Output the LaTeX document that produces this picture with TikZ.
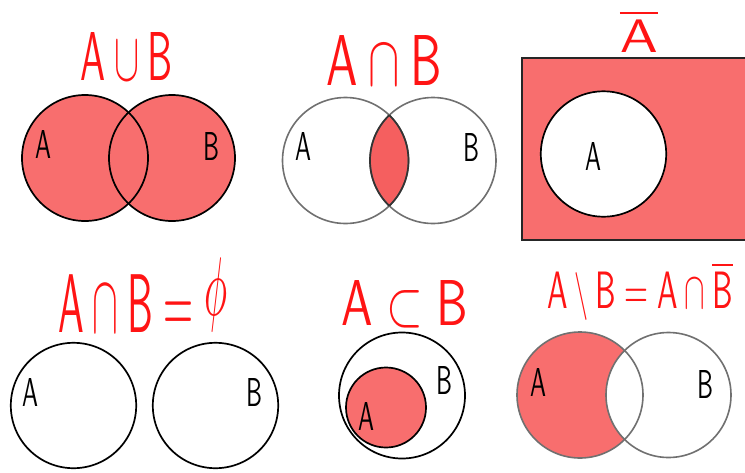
\documentclass[tikz,border=0pt]{standalone}
\usepackage{graphicx}
\usepackage{amsmath,amssymb}
\definecolor{setred}{RGB}{248,110,110}
\definecolor{lensred}{RGB}{245,95,95}
\definecolor{inkred}{RGB}{255,20,20}
\definecolor{outgray}{RGB}{112,112,112}
\newcommand{\hlbl}[1]{\resizebox{16pt}{28pt}{\sffamily #1}}
\newcommand{\httl}[3]{\resizebox{#1pt}{#2pt}{\color{inkred}$#3$}}
\newcommand{\upphi}{\raisebox{\depth}{$\phi$}}
\newcommand{\mysetminus}{\mathbin{\raisebox{0pt}{\resizebox{!}{0.683em}{$\setminus$}}}}
\begin{document}
\begin{tikzpicture}[x=1pt,y=-1pt,
  blackline/.style={draw=black,line width=1.7pt},
  grayline/.style={draw=outgray,line width=1.6pt},
  lbl/.style={inner sep=0pt,text=black},
  ttl/.style={inner sep=0pt}]
\useasboundingbox (0,0) rectangle (745,472);
% ---------- Panel 1: union ----------
\fill[setred] (85,158) circle[radius=63pt];
\fill[setred] (172,158) circle[radius=63pt];
\draw[blackline] (85,158) circle[radius=63pt];
\draw[blackline] (172,158) circle[radius=63pt];
\node[ttl] (t1) at (127,56) {\httl{92}{48}{\mathsf{A}\cup\mathsf{B}}};
\node[lbl] (a1) at (43,144) {\hlbl{A}};
\node[lbl] (b1) at (211,146) {\hlbl{B}};
% ---------- Panel 2: intersection ----------
\begin{scope}
  \clip (345.5,160.5) circle[radius=63pt];
  \fill[lensred] (433,160.5) circle[radius=63pt];
\end{scope}
\draw[grayline] (345.5,160.5) circle[radius=63pt];
\draw[grayline] (433,160.5) circle[radius=63pt];
\begin{scope}
  \clip (345.5,160.5) circle[radius=63pt];
  \draw[draw=black!80,line width=1.7pt] (433,160.5) circle[radius=63pt];
\end{scope}
\begin{scope}
  \clip (433,160.5) circle[radius=63pt];
  \draw[draw=black!80,line width=1.7pt] (345.5,160.5) circle[radius=63pt];
\end{scope}
\node[ttl] (t2) at (384.5,60) {\httl{115}{50}{\mathsf{A}\cap\mathsf{B}}};
\node[lbl] (a2) at (303,146) {\hlbl{A}};
\node[lbl] (b2) at (471,147) {\hlbl{B}};
% ---------- Panel 3: complement ----------
\fill[setred] (522,58) rectangle (750,240);
\draw[draw=black!85,line width=1.6pt] (750,58) -- (522,58) -- (522,240) -- (750,240);
\filldraw[fill=white,blackline] (603.5,154) circle[radius=62.7pt];
\node[ttl] (t3) at (639,31) {\httl{38}{42}{\overline{\mathsf{A}}}};
\node[lbl] (a3) at (593,156) {\hlbl{A}};
% ---------- Panel 4: disjoint ----------
\draw[blackline] (73.5,405.5) circle[radius=62.7pt];
\draw[blackline] (215.5,405.5) circle[radius=62.7pt];
\node[ttl] (t4) at (143,295) {\httl{169}{74}{\mathsf{A}\cap\mathsf{B}=\upphi}};
\node[lbl] (a4) at (31,392) {\hlbl{A}};
\node[lbl] (b4) at (254,392) {\hlbl{B}};
% ---------- Panel 5: subset ----------
\draw[blackline] (402,395.5) circle[radius=63pt];
\filldraw[fill=setred,blackline] (386,407.5) circle[radius=40pt];
\node[ttl] (t5) at (405,304.5) {\httl{126}{45}{\mathsf{A}\subset\mathsf{B}}};
\node[lbl] (a5) at (366,416) {\hlbl{A}};
\node[lbl] (b5) at (444,380) {\hlbl{B}};
% ---------- Panel 6: difference ----------
\fill[setred] (580,395) circle[radius=63pt];
\fill[white] (668.5,395) circle[radius=62.5pt];
\draw[grayline] (580,395) circle[radius=63pt];
\draw[grayline] (668.5,395) circle[radius=62.5pt];
\node[ttl] (t6) at (640,291) {\httl{185}{47}{\mathsf{A}\mysetminus\mathsf{B}=\mathsf{A}\cap\overline{\mathsf{B}}}};
\node[lbl] (a6) at (538,382) {\hlbl{A}};
\node[lbl] (b6) at (705,384) {\hlbl{B}};
\end{tikzpicture}
\end{document}
